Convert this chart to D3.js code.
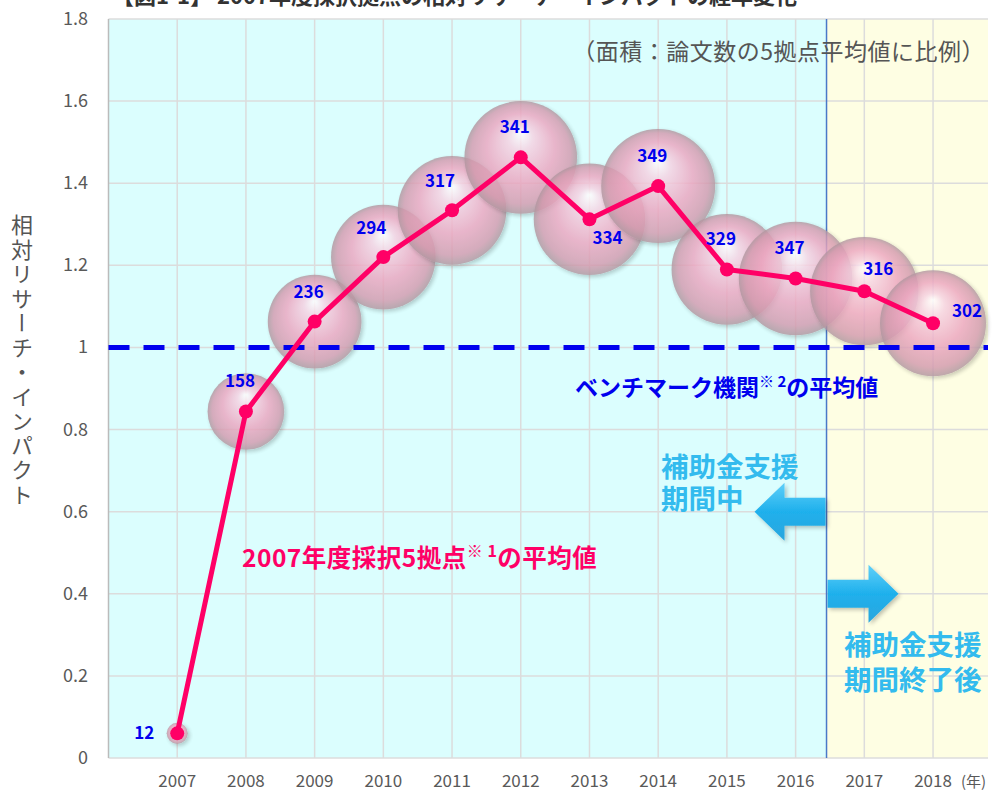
<!DOCTYPE html>
<html>
<head>
<meta charset="utf-8">
<script src="https://cdn.jsdelivr.net/npm/d3@7"></script>
<style>
  body { margin: 0; background: #fff; }
  svg text { font-family: "Noto Sans CJK JP", "Noto Sans", sans-serif; }
</style>
</head>
<body>
<svg width="993" height="792"></svg>
<script>
// data
var years = [2007, 2008, 2009, 2010, 2011, 2012, 2013, 2014, 2015, 2016, 2017, 2018];
var impact = [0.06, 0.844, 1.063, 1.22, 1.334, 1.463, 1.312, 1.393, 1.19, 1.168, 1.137, 1.059];
var papers = [12, 158, 236, 294, 317, 341, 334, 349, 329, 347, 316, 302];
var labelSide = ['left', 'above', 'above', 'aboveLeft', 'aboveLeft', 'above', 'below', 'above', 'above', 'above', 'aboveRight', 'right'];
var yTicks = [0, 0.2, 0.4, 0.6, 0.8, 1, 1.2, 1.4, 1.6, 1.8];
var benchmark = 1;
var supportEnd = 2016.45;

var svg = d3.select('svg');

var x = d3.scaleLinear().domain([2006, 2018.8]).range([108.5, 988]);
var y = d3.scaleLinear().domain([0, 1.8]).range([758, 19]);
var r = d3.scaleSqrt().domain([0, 349]).range([0, 57]);

var defs = svg.append('defs');
var grad = defs.append('radialGradient').attr('id', 'ball')
    .attr('cx', '50%').attr('cy', '50%').attr('r', '50%')
    .attr('fx', '50%').attr('fy', '28%');
grad.append('stop').attr('offset', '0%').attr('stop-color', '#ffffff');
grad.append('stop').attr('offset', '22%').attr('stop-color', '#f6d2e2');
grad.append('stop').attr('offset', '60%').attr('stop-color', '#eca6c0');
grad.append('stop').attr('offset', '88%').attr('stop-color', '#d39aae');
grad.append('stop').attr('offset', '100%').attr('stop-color', '#b0969f');

var arrowGrad = defs.append('linearGradient').attr('id', 'arrow')
    .attr('x1', 0).attr('y1', 0).attr('x2', 0).attr('y2', 1);
arrowGrad.append('stop').attr('offset', '0%').attr('stop-color', '#5fd0fa');
arrowGrad.append('stop').attr('offset', '50%').attr('stop-color', '#1fb0ec');
arrowGrad.append('stop').attr('offset', '100%').attr('stop-color', '#2aa6de');

var shadow = defs.append('filter').attr('id', 'shadow').attr('x', '-20%').attr('y', '-20%').attr('width', '150%').attr('height', '150%');
shadow.append('feGaussianBlur').attr('in', 'SourceAlpha').attr('stdDeviation', 2);
shadow.append('feOffset').attr('dx', 2).attr('dy', 2).attr('result', 'b');
shadow.append('feComponentTransfer').append('feFuncA').attr('type', 'linear').attr('slope', 0.25);
var m = shadow.append('feMerge');
m.append('feMergeNode');
m.append('feMergeNode').attr('in', 'SourceGraphic');

// title (cut off at top)
svg.append('text')
    .attr('x', 112).attr('y', 4)
    .attr('font-size', 22).attr('font-weight', 'bold').attr('fill', '#333')
    .text('【図1-1】 2007年度採択拠点の相対リサーチ・インパクトの経年変化');

// background
svg.append('rect')
    .attr('x', x(2006)).attr('y', y(1.8))
    .attr('width', x(supportEnd) - x(2006)).attr('height', y(0) - y(1.8))
    .attr('fill', '#dbfefe');
svg.append('rect')
    .attr('x', x(supportEnd)).attr('y', y(1.8))
    .attr('width', x(2018.8) - x(supportEnd)).attr('height', y(0) - y(1.8))
    .attr('fill', '#fefee3');

// grid
svg.append('g').selectAll('line').data(yTicks).enter().append('line')
    .attr('x1', x(2006)).attr('x2', x(2018.8))
    .attr('y1', d => y(d)).attr('y2', d => y(d))
    .attr('stroke', '#dcdcdc').attr('stroke-width', 1.5);
svg.append('g').selectAll('line').data(years).enter().append('line')
    .attr('x1', d => x(d)).attr('x2', d => x(d))
    .attr('y1', y(0)).attr('y2', y(1.8))
    .attr('stroke', '#dcdcdc').attr('stroke-width', 1.5);

svg.append('line')
    .attr('x1', x(2006)).attr('x2', x(2006)).attr('y1', y(0)).attr('y2', y(1.8))
    .attr('stroke', '#bbb').attr('stroke-width', 1.5);

svg.append('line')
    .attr('x1', x(supportEnd)).attr('x2', x(supportEnd)).attr('y1', y(0)).attr('y2', y(1.8))
    .attr('stroke', '#4a78c8').attr('stroke-width', 1.5);

// y axis labels
svg.append('g').selectAll('text').data(yTicks).enter().append('text')
    .attr('x', 88).attr('y', d => y(d) + 6)
    .attr('text-anchor', 'end').attr('font-size', 18).attr('fill', '#595959')
    .attr('font-family', 'Liberation Sans, sans-serif')
    .text(d => d3.format('~g')(d));

svg.append('text')
    .attr('x', 22).attr('y', 214)
    .attr('font-size', 22).attr('fill', '#555')
    .attr('letter-spacing', 2.5)
    .style('writing-mode', 'vertical-rl')
    .text('相対リサーチ・インパクト');

// x axis labels
svg.append('g').selectAll('text').data(years).enter().append('text')
    .attr('x', d => x(d)).attr('y', 787)
    .attr('text-anchor', 'middle').attr('font-size', 17).attr('fill', '#595959')
    .attr('font-family', 'Liberation Sans, sans-serif')
    .text(d => d);
svg.append('text')
    .attr('x', x(2018) + 28).attr('y', 787)
    .attr('font-size', 15).attr('fill', '#595959')
    .text('(年)');

// bubbles
svg.append('g').selectAll('circle').data(years).enter().append('circle')
    .attr('cx', d => x(d)).attr('cy', (d, i) => y(impact[i]))
    .attr('r', (d, i) => r(papers[i]))
    .attr('fill', 'url(#ball)').attr('opacity', 0.82)
    .attr('filter', 'url(#shadow)');

// benchmark line
svg.append('line')
    .attr('x1', x(2006)).attr('x2', x(2018.8))
    .attr('y1', y(benchmark)).attr('y2', y(benchmark))
    .attr('stroke', '#0000ee').attr('stroke-width', 5).attr('stroke-dasharray', '21,14');

// line
var line = d3.line().x(d => x(d)).y((d, i) => y(impact[i]));
svg.append('path').datum(years)
    .attr('d', line).attr('fill', 'none')
    .attr('stroke', '#ff0066').attr('stroke-width', 5).attr('stroke-linejoin', 'round');
svg.append('g').selectAll('circle').data(years).enter().append('circle')
    .attr('cx', d => x(d)).attr('cy', (d, i) => y(impact[i]))
    .attr('r', 7).attr('fill', '#ff0066');

// value labels
var off = {
    left: [-33, 6], above: [-6, -24], aboveLeft: [-12, -23], below: [18, 25],
    aboveRight: [14, -16], right: [34, -6]
};
svg.append('g').selectAll('text').data(years).enter().append('text')
    .attr('x', (d, i) => x(d) + off[labelSide[i]][0])
    .attr('y', (d, i) => y(impact[i]) + off[labelSide[i]][1])
    .attr('text-anchor', 'middle')
    .attr('font-family', 'DejaVu Sans, sans-serif')
    .attr('font-size', 17).attr('font-weight', 'bold').attr('fill', '#0000ee')
    .text((d, i) => papers[i]);

// annotations
svg.append('text')
    .attr('x', 985).attr('y', 60)
    .attr('text-anchor', 'end').attr('font-size', 23).attr('fill', '#555')
    .attr('letter-spacing', 0.5)
    .text('（面積：論文数の5拠点平均値に比例）');

var bm = svg.append('text')
    .attr('x', 575).attr('y', 396)
    .attr('font-size', 23).attr('font-weight', 'bold').attr('fill', '#0000ee');
bm.append('tspan').text('ベンチマーク機関');
bm.append('tspan').attr('font-size', 15).attr('dy', -9).text('※ 2');
bm.append('tspan').attr('dy', 9).text('の平均値');

var av = svg.append('text')
    .attr('x', 242).attr('y', 567)
    .attr('font-size', 24.5).attr('font-weight', 'bold').attr('fill', '#ff0066')
    .attr('letter-spacing', 0.5);
av.append('tspan').text('2007年度採択5拠点');
av.append('tspan').attr('font-size', 16).attr('dy', -10).text('※ 1');
av.append('tspan').attr('dy', 10).text('の平均値');

var during = svg.append('text')
    .attr('font-size', 27.5).attr('font-weight', 'bold').attr('fill', '#33bbee');
during.append('tspan').attr('x', 661).attr('y', 477).text('補助金支援');
during.append('tspan').attr('x', 661).attr('y', 509).text('期間中');

var after = svg.append('text')
    .attr('font-size', 27.5).attr('font-weight', 'bold').attr('fill', '#33bbee');
after.append('tspan').attr('x', 844).attr('y', 655).text('補助金支援');
after.append('tspan').attr('x', 844).attr('y', 690).text('期間終了後');

// arrows
function arrow(x0, cy, dir) {
    var len = 71, head = 30, sh = 14, hh = 29;
    var p = d3.path();
    p.moveTo(x0, cy - sh);
    p.lineTo(x0 + dir * (len - head), cy - sh);
    p.lineTo(x0 + dir * (len - head), cy - hh);
    p.lineTo(x0 + dir * len, cy);
    p.lineTo(x0 + dir * (len - head), cy + hh);
    p.lineTo(x0 + dir * (len - head), cy + sh);
    p.lineTo(x0, cy + sh);
    p.closePath();
    svg.append('path').attr('d', p.toString())
        .attr('fill', 'url(#arrow)').attr('filter', 'url(#shadow)');
}
arrow(x(supportEnd) - 1, y(0.6), -1);
arrow(x(supportEnd) + 1, y(0.4), 1);
</script>
</body>
</html>
